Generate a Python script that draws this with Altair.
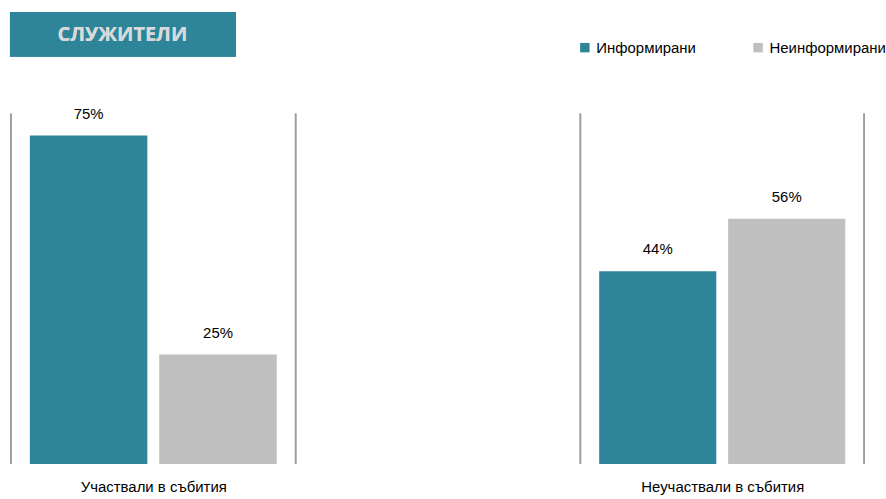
import altair as alt
import pandas as pd

# Survey results: share of employees informed / not informed, by event participation
categories = ["Участвали в събития", "Неучаствали в събития"]
series = ["Информирани", "Неинформирани"]
informed = [75, 44]
not_informed = [25, 56]
heading = "СЛУЖИТЕЛИ"

TEAL = "#2E859A"
GRAY = "#BFBFBF"
RULE = "#9C9C9C"
FONT = "Liberation Sans"

rows = []
for cat, a, b in zip(categories, informed, not_informed):
    rows.append({"cat": cat, "series": series[0], "value": a, "label": f"{a}%"})
    rows.append({"cat": cat, "series": series[1], "value": b, "label": f"{b}%"})
df = pd.DataFrame(rows)

color_scale = alt.Scale(domain=series, range=[TEAL, GRAY])
y_scale = alt.Scale(domain=[0, 80], nice=False)


def panel(cat, width, show_heading=False):
    x_enc = alt.X(
        "series:N",
        sort=series,
        scale=alt.Scale(paddingInner=0.092, paddingOuter=0.146),
        axis=alt.Axis(
            labels=False, ticks=False, domain=False, title=cat,
            titleFont=FONT, titleFontSize=15, titleFontWeight="normal",
            titleColor="#000000", titlePadding=16,
        ),
    )
    y_enc = alt.Y("value:Q", scale=y_scale, axis=None)
    base = alt.Chart(df).transform_filter(alt.datum.cat == cat)
    bars = base.mark_bar().encode(
        x=x_enc,
        y=y_enc,
        color=alt.Color(
            "series:N", scale=color_scale, sort=series,
            legend=alt.Legend(title=None) if show_heading else None,
        ),
    )
    labels = base.mark_text(
        font=FONT, fontSize=15, color="#000000", baseline="alphabetic", dy=-17
    ).encode(x=x_enc, y=y_enc, text="label:N")
    edges = base.mark_rule(color=RULE, strokeWidth=1.6).encode(
        x=alt.value(0), y=alt.value(0), y2=alt.value(352)
    ) + base.mark_rule(color=RULE, strokeWidth=1.6).encode(
        x=alt.value(width), y=alt.value(0), y2=alt.value(352)
    )
    layers = [bars, labels, edges]
    if show_heading:
        box = base.mark_rect(color=TEAL, clip=False).encode(
            x=alt.value(-1), x2=alt.value(226), y=alt.value(-102), y2=alt.value(-57)
        )
        txt = base.mark_text(
            text=heading, font="Open Sans", fontSize=20, fontWeight="bold",
            color="#D9D9D9", align="center", baseline="middle",
        ).encode(x=alt.value(112), y=alt.value(-79))
        layers += [box, txt]
    return alt.layer(*layers).properties(width=width, height=352)


chart = alt.hconcat(
    panel(categories[0], 286, show_heading=True),
    panel(categories[1], 285),
    spacing=284,
).properties(
    padding={"left": 10, "top": 11, "right": 0, "bottom": 0},
).configure_view(stroke=None).configure_legend(
    orient="none", legendX=569, legendY=-74, direction="horizontal",
    symbolType="square", symbolSize=90, symbolStrokeWidth=0,
    labelFont=FONT, labelFontSize=15, labelColor="#000000",
    columnPadding=54, symbolOffset=0,
)

chart.save("out.html", embed_options={"renderer": "svg", "actions": False})
